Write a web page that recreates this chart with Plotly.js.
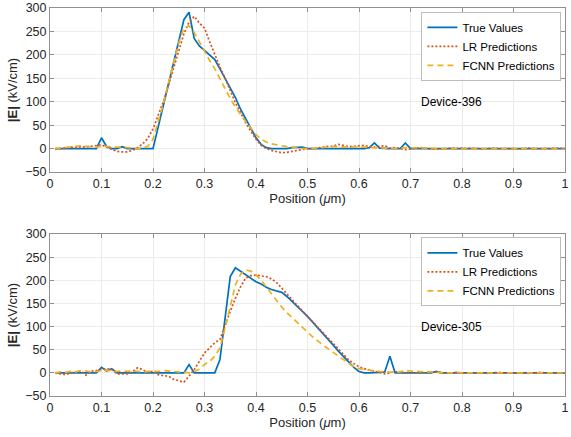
<!DOCTYPE html>
<html>
<head>
<meta charset="utf-8">
<script src="https://cdn.plot.ly/plotly-3.0.1.min.js"></script>
<style>html,body{margin:0;padding:0;background:#fff;}#chart{width:571px;height:437px;}</style>
</head>
<body>
<div id="chart"></div>
<script>
// Positions (µm)
const position = [0.01,0.02,0.03,0.04,0.05,0.06,0.07,0.08,0.09,0.10,
0.11,0.12,0.13,0.14,0.15,0.16,0.17,0.18,0.19,0.20,
0.21,0.22,0.23,0.24,0.25,0.26,0.27,0.28,0.29,0.30,
0.31,0.32,0.33,0.34,0.35,0.36,0.37,0.38,0.39,0.40,
0.41,0.42,0.43,0.44,0.45,0.46,0.47,0.48,0.49,0.50,
0.51,0.52,0.53,0.54,0.55,0.56,0.57,0.58,0.59,0.60,
0.61,0.62,0.63,0.64,0.65,0.66,0.67,0.68,0.69,0.70,
0.71,0.72,0.73,0.74,0.75,0.76,0.77,0.78,0.79,0.80,
0.81,0.82,0.83,0.84,0.85,0.86,0.87,0.88,0.89,0.90,
0.91,0.92,0.93,0.94,0.95,0.96,0.97,0.98,0.99,1.00];

// Device-396
const true396 = [0,0,0,0,0,0,0,0,0,23,
4,0,0,4,0,0,0,0,0,0,
46,92,138,184,229,275,291,235,219,210,
201,190,170,149,129,109,84,63,41,23,
9,2,0,0,0,0,2,3,3,0,
0,0,0,0,0,0,0,0,0,0,
0,2,12,1,0,0,0,0,12,0,
0,0,0,0,0,0,0,0,0,0,
0,0,0,0,0,0,0,0,0,0,
0,0,0,0,0,0,0,0,0,0];
const lr396 = [-2,-1,1,3,2,4,3,5,7,8,
3,-2,-6,-7,-7,-4,2,10,22,42,
70,100,135,172,212,245,270,282,268,257,
228,199,174,150,124,98,77,55,37,20,
7,0,-4,-7,-9,-8,-6,-4,-2,0,
0,1,3,5,5,9,6,4,5,6,
7,4,3,5,6,1,2,0,-2,-1,
1,2,1,-1,-1,-1,0,1,0,1,
0,1,0,-1,0,1,0,0,1,0,
-1,0,1,0,0,-1,0,1,0,0];
const fcnn396 = [0,1,2,3,4,6,5,4,3,5,
4,3,3,3,2,1,0,1,5,20,
55,95,140,185,225,258,262,248,228,206,
188,170,148,127,107,88,72,58,44,30,
20,14,10,8,5,4,3,1,0,0,
1,2,2,3,4,4,3,4,4,4,
3,2,2,1,1,0,0,1,2,2,
2,2,1,1,0,0,1,0,0,1,
0,0,0,0,1,0,0,0,0,0,
0,0,0,0,0,0,0,0,0,0];

// Device-305
const true305 = [0,0,0,0,0,0,0,0,0,12,
4,9,0,0,0,0,0,0,0,0,
0,0,0,0,0,0,18,0,0,0,
0,0,29,118,208,227,219,211,203,197,
192,185,180,177,174,165,155,145,133,122,
110,97,84,72,60,47,35,23,12,3,
0,0,0,1,2,36,0,0,0,0,
0,0,0,0,3,0,0,0,0,0,
0,0,0,0,0,0,0,0,0,0,
0,0,0,0,0,0,0,0,0,0];
const lr305 = [0,-2,-4,0,2,4,-5,4,5,7,
9,7,-2,-2,-2,2,11,7,0,4,
-4,-6,-7,-14,-17,-20,-7,7,25,43,
54,65,72,104,133,161,186,205,210,211,
210,208,203,195,183,170,158,146,134,122,
110,98,86,74,62,50,38,28,20,13,
9,6,3,1,-2,0,3,1,0,1,
0,1,0,1,2,0,-1,0,1,0,
0,1,0,0,-1,0,1,0,0,1,
0,0,-1,0,1,0,0,0,1,0];
const fcnn305 = [0,2,1,3,2,5,4,2,3,5,
6,4,3,4,3,4,3,2,3,3,
3,5,4,3,2,1,0,3,8,18,
25,36,54,97,147,190,213,222,220,212,
200,185,170,156,142,130,119,109,98,88,
78,68,60,52,44,36,27,19,13,9,
7,5,4,3,2,2,1,2,5,4,
3,3,2,2,1,1,0,0,1,0,
0,0,1,0,0,0,0,1,0,0,
0,0,0,0,0,0,0,0,0,0];

const seriesNames = ['True Values','LR Predictions','FCNN Predictions'];
const deviceLabels = ['Device-396','Device-305'];
const xTickVals = [0,0.1,0.2,0.3,0.4,0.5,0.6,0.7,0.8,0.9,1];
const xTickText = ['0','0.1','0.2','0.3','0.4','0.5','0.6','0.7','0.8','0.9','1'];
const yTickVals = [-50,0,50,100,150,200,250,300];

const colors = ['#0072BD','#D95319','#EDB120'];
const dashes = ['solid','2px,2px','6px,4px'];

function mk(y, i, xa, ya, leg) {
  return {x: position, y: y, type:'scatter', mode:'lines', name: seriesNames[i],
    xaxis: xa, yaxis: ya, legend: leg,
    line:{color: colors[i], width: 1.7, dash: dashes[i]}};
}
const data = [
  mk(true396,0,'x','y','legend'), mk(lr396,1,'x','y','legend'), mk(fcnn396,2,'x','y','legend'),
  mk(true305,0,'x2','y2','legend2'), mk(lr305,1,'x2','y2','legend2'), mk(fcnn305,2,'x2','y2','legend2')
];

const font = {family:'Liberation Sans, Arial, Helvetica, sans-serif', size:12, color:'#262626'};
function xax(anchor){
  return {anchor: anchor, range:[0,1], tickvals:xTickVals, ticktext:xTickText,
    showline:true, mirror:'ticks', linecolor:'#8f8f8f', linewidth:1,
    ticks:'inside', ticklen:4, tickcolor:'#8f8f8f',
    showgrid:true, gridcolor:'#ebebeb', zeroline:false,
    tickfont:{size:12.5, color:'#262626'},
    title:{text:'Position (<i>μ</i>m)', font:{size:13, color:'#262626'}, standoff:2}};
}
function yax(anchor, dom){
  return {anchor: anchor, domain: dom, range:[-50,300], tickvals:yTickVals,
    showline:true, mirror:'ticks', linecolor:'#8f8f8f', linewidth:1,
    ticks:'inside', ticklen:4, tickcolor:'#8f8f8f',
    showgrid:true, gridcolor:'#ebebeb', zeroline:false,
    tickfont:{size:12.5, color:'#262626'},
    title:{text:'<b>|E|</b> (kV/cm)', font:{size:13, color:'#262626'}, standoff:4}};
}
const legendStyle = {xanchor:'right', yanchor:'top', x:0.993, bgcolor:'#ffffff',
  bordercolor:'#bdbdbd', borderwidth:1, font:{size:11.5, color:'#000'},
  tracegroupgap:0, itemwidth:30};

const layout = {
  width:571, height:437,
  margin:{l:50, r:6, t:8, b:41},
  paper_bgcolor:'#ffffff', plot_bgcolor:'#ffffff',
  font: font,
  showlegend:true,
  xaxis: xax('y'),
  yaxis: yax('x',[0.5773,1]),
  xaxis2: xax('y2'),
  yaxis2: yax('x2',[0,0.4175]),
  legend: Object.assign({y:0.99}, legendStyle),
  legend2: Object.assign({y:0.409}, legendStyle),
  annotations:[
    {text:deviceLabels[0], x:0.78, y:100, xref:'x', yref:'y', showarrow:false, font:{size:12,color:'#000'}},
    {text:deviceLabels[1], x:0.78, y:100, xref:'x2', yref:'y2', showarrow:false, font:{size:12,color:'#000'}}
  ]
};
Plotly.newPlot('chart', data, layout, {displayModeBar:false, staticPlot:true});
</script>
</body>
</html>
